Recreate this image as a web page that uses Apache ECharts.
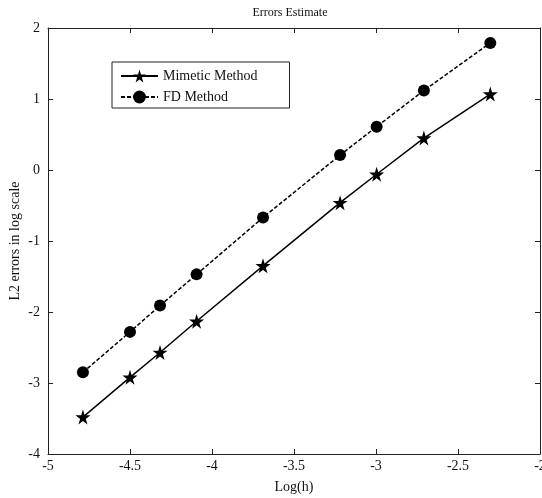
<!DOCTYPE html>
<html>
<head>
<meta charset="utf-8">
<script src="https://cdn.jsdelivr.net/npm/echarts@6/dist/echarts.min.js"></script>
<style>
  html, body { margin: 0; padding: 0; background: #fff; }
  #main { width: 542px; height: 498px; }
</style>
</head>
<body>
<div id="main"></div>
<script>
// log(h) for h = 1/120, 1/90, 1/75, 1/60, 1/40, 1/25, 1/20, 1/15, 1/10
var logH = [-4.787, -4.5, -4.317, -4.094, -3.689, -3.219, -2.996, -2.708, -2.303];
var mimetic = [-3.48, -2.92, -2.57, -2.13, -1.35, -0.46, -0.06, 0.45, 1.07];
var fdMethod = [-2.85, -2.28, -1.91, -1.47, -0.67, 0.21, 0.61, 1.12, 1.79];

var serif = '"Liberation Serif", "DejaVu Serif", serif';
var star = 'path://M50,0 L61,35 L98,35 L68,57 L79,91 L50,70 L21,91 L32,57 L2,35 L39,35 Z';

function pairs(xs, ys) {
  return xs.map(function (x, i) { return [x, ys[i]]; });
}

var myChart = echarts.init(document.getElementById("main"));

var tickStyle = { inside: true, length: 5, lineStyle: { color: "#222" } };
var lineStyle = { onZero: false, lineStyle: { color: "#222", width: 1 } };

var option = {
  backgroundColor: "#fff",
  animation: false,
  title: {
    text: "Errors Estimate",
    left: 285,
    textAlign: "center",
    top: 2,
    textStyle: { fontFamily: serif, fontSize: 12, fontWeight: "normal", color: "#111" },
  },
  legend: {
    orient: "vertical",
    left: 112,
    top: 62,
    padding: [7, 32, 4, 8],
    itemGap: 7,
    itemWidth: 37,
    itemHeight: 16,
    borderColor: "#222",
    borderWidth: 1,
    textStyle: { fontFamily: serif, fontSize: 14, color: "#111" },
    data: ["Mimetic Method", "FD Method"],
  },
  grid: { left: 48, right: 2, top: 28, bottom: 44, outerBoundsMode: "none" },
  xAxis: [
    {
      type: "value",
      min: -5,
      max: -2,
      interval: 0.5,
      name: "Log(h)",
      nameLocation: "middle",
      nameGap: 26,
      nameMoveOverlap: false,
      nameTextStyle: { fontFamily: serif, fontSize: 14, color: "#111" },
      axisLine: lineStyle,
      axisTick: tickStyle,
      splitLine: { show: false },
      axisLabel: { fontFamily: serif, fontSize: 14, color: "#111", margin: 5 },
    },
    {
      type: "value",
      position: "top",
      min: -5,
      max: -2,
      interval: 0.5,
      axisLine: lineStyle,
      axisTick: tickStyle,
      splitLine: { show: false },
      axisLabel: { show: false },
    },
  ],
  yAxis: [
    {
      type: "value",
      min: -4,
      max: 2,
      interval: 1,
      name: "L2 errors in log scale",
      nameLocation: "middle",
      nameGap: 26,
      nameMoveOverlap: false,
      nameTextStyle: { fontFamily: serif, fontSize: 14, color: "#111" },
      axisLine: lineStyle,
      axisTick: tickStyle,
      splitLine: { show: false },
      axisLabel: { fontFamily: serif, fontSize: 14, color: "#111", margin: 8 },
    },
    {
      type: "value",
      position: "right",
      min: -4,
      max: 2,
      interval: 1,
      axisLine: lineStyle,
      axisTick: tickStyle,
      splitLine: { show: false },
      axisLabel: { show: false },
    },
  ],
  series: [
    {
      name: "Mimetic Method",
      type: "line",
      data: pairs(logH, mimetic),
      symbol: star,
      symbolSize: 15,
      itemStyle: { color: "#000" },
      lineStyle: { color: "#000", width: 1.5 },
    },
    {
      name: "FD Method",
      type: "line",
      data: pairs(logH, fdMethod),
      symbol: "circle",
      symbolSize: 12,
      itemStyle: { color: "#000" },
      lineStyle: { color: "#000", width: 1.5, type: [4, 2] },
    },
  ],
};

myChart.setOption(option);
</script>
</body>
</html>
